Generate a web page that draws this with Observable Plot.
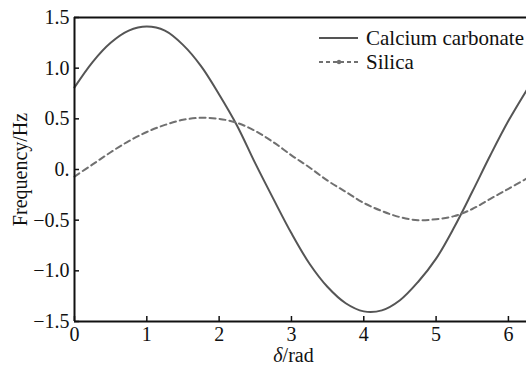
<!DOCTYPE html>
<html>
<head>
<meta charset="utf-8">
<script src="https://cdn.jsdelivr.net/npm/d3@7"></script>
<script src="https://cdn.jsdelivr.net/npm/@observablehq/plot@0.6"></script>
<style>
  body { margin: 0; background: white; }
  #wrap { position: relative; width: 526px; height: 365px; overflow: hidden; font-family: "Liberation Serif", "Times New Roman", serif; }
  #legend { position: absolute; left: 318px; top: 26px; font-size: 21px; line-height: 24px; color: #111; white-space: nowrap; }
  #legend .row { display: flex; align-items: center; height: 24px; }
  #legend svg { margin-right: 6px; }
</style>
</head>
<body>
<div id="wrap"><div id="legend"></div></div>
<script>
// δ (rad)
const delta = [0, 0.25, 0.5, 0.75, 1.0, 1.25, 1.5, 1.75, 2.0, 2.25, 2.5, 2.75, 3.0, 3.25, 3.5, 3.75, 4.0, 4.25, 4.5, 4.75, 5.0, 5.25, 5.5, 5.75, 6.0, 6.25];
// Calcium carbonate frequency (Hz)
const calciumCarbonate = [0.81, 1.06, 1.25, 1.37, 1.41, 1.37, 1.23, 1.02, 0.74, 0.43, 0.06, -0.29, -0.63, -0.93, -1.16, -1.32, -1.40, -1.39, -1.29, -1.11, -0.88, -0.57, -0.22, 0.14, 0.48, 0.78];
// Silica frequency (Hz)
const silica = [-0.07, 0.05, 0.17, 0.28, 0.37, 0.44, 0.49, 0.51, 0.50, 0.46, 0.38, 0.27, 0.14, 0.02, -0.11, -0.22, -0.33, -0.41, -0.47, -0.50, -0.49, -0.46, -0.39, -0.29, -0.19, -0.09];

const seriesNames = ["Calcium carbonate", "Silica"];
const xTicks = [0, 1, 2, 3, 4, 5, 6];
const xTickLabels = ["0", "1", "2", "3", "4", "5", "6"];
const yTicks = [-1.5, -1.0, -0.5, 0, 0.5, 1.0, 1.5];
const yTickLabels = ["−1.5", "−1.0", "−0.5", "0.", "0.5", "1.0", "1.5"];
const xLabel = "δ/rad";
const yLabel = "Frequency/Hz";

const caRows = delta.map((d, i) => ({x: d, y: calciumCarbonate[i]}));
const siRows = delta.map((d, i) => ({x: d, y: silica[i]}));
const xFmt = new Map(xTicks.map((t, i) => [t, xTickLabels[i]]));
const yFmt = new Map(yTicks.map((t, i) => [t, yTickLabels[i]]));

const W = 526, H = 365, mL = 74, mR = 0, mT = 17, mB = 44;
const innerW = W - mL - mR, innerH = H - mT - mB;
const tickLen = 5;

const chart = Plot.plot({
  width: W, height: H,
  marginLeft: mL, marginRight: mR, marginTop: mT, marginBottom: mB,
  style: {fontFamily: "'Liberation Serif', 'Times New Roman', serif", fontSize: "20px", background: "white", color: "#111", overflow: "visible"},
  x: {domain: [0, 6.25]},
  y: {domain: [-1.5, 1.5]},
  marks: [
    Plot.line(caRows, {x: "x", y: "y", stroke: "#555", strokeWidth: 2, curve: "catmull-rom"}),
    Plot.line(siRows, {x: "x", y: "y", stroke: "#707070", strokeWidth: 2, strokeDasharray: "6,4", curve: "catmull-rom"}),
    Plot.tickX(xTicks, {x: d => d, insetTop: innerH - tickLen, stroke: "#111", strokeWidth: 1.5}),
    Plot.tickY(yTicks, {y: d => d, insetRight: innerW - tickLen, stroke: "#111", strokeWidth: 1.5}),
    Plot.ruleY([yTicks[0], yTicks[yTicks.length - 1]], {stroke: "#111", strokeWidth: 2}),
    Plot.ruleX([xTicks[0]], {stroke: "#111", strokeWidth: 2}),
    Plot.axisX({ticks: xTicks, tickFormat: d => xFmt.get(d), tickSize: 0, tickPadding: 5, label: xLabel, labelArrow: "none", labelAnchor: "center", labelOffset: 40}),
    Plot.axisY({ticks: yTicks, tickFormat: d => yFmt.get(d), tickSize: 0, tickPadding: 5, label: yLabel, labelArrow: "none", labelAnchor: "center", labelOffset: 62})
  ]
});
document.getElementById("wrap").prepend(chart);

// strip any arrows, italicise δ in the x label
d3.select(chart).selectAll("text").each(function() {
  const raw = this.textContent.replace(/\s*[→←↑↓]\s*/g, "").trim();
  if (raw === yLabel) this.textContent = yLabel;
  if (raw === xLabel) {
    const t = d3.select(this);
    t.text(null);
    t.attr("dx", -7);
    t.append("tspan").attr("font-style", "italic").text("δ");
    t.append("tspan").text("/rad");
  }
});

// legend
const legend = d3.select("#legend");
const styles = [{dash: null, color: "#555"}, {dash: "4,3", color: "#707070", dot: true}];
seriesNames.forEach((name, i) => {
  const row = legend.append("div").attr("class", "row");
  const s = row.append("svg").attr("width", 42).attr("height", 10);
  s.append("line").attr("x1", 1).attr("x2", 40).attr("y1", 5).attr("y2", 5)
    .attr("stroke", styles[i].color).attr("stroke-width", 2)
    .attr("stroke-dasharray", styles[i].dash);
  if (styles[i].dot) s.append("circle").attr("cx", 21).attr("cy", 5).attr("r", 2.2).attr("fill", styles[i].color);
  row.append("span").text(name);
});
</script>
</body>
</html>
